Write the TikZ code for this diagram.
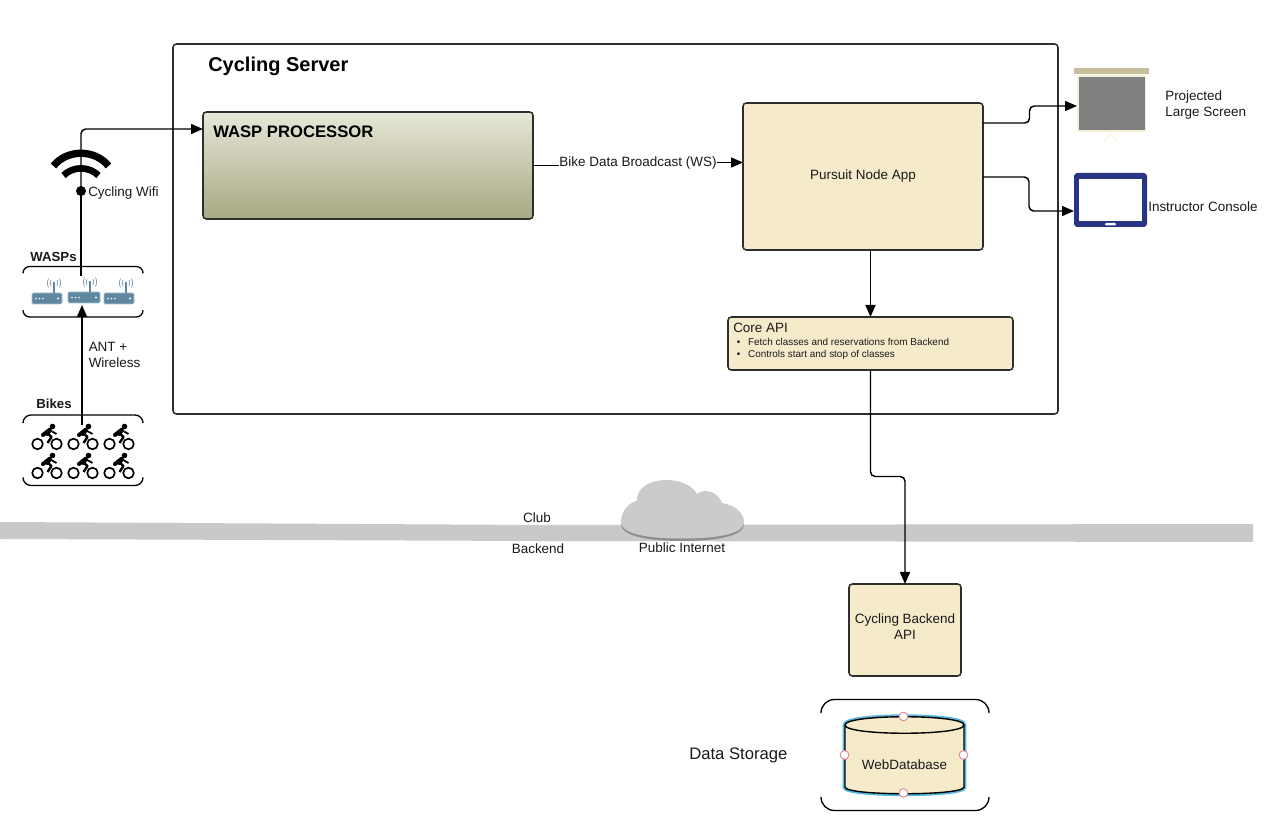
\documentclass[tikz,border=0pt]{standalone}
\usepackage{fontspec}
\setmainfont{Liberation Sans}
\usetikzlibrary{arrows.meta,calc,positioning}
\definecolor{cream}{HTML}{F5EBCB}
\definecolor{ink}{HTML}{1A1A1A}
\definecolor{frame}{HTML}{2E2E2E}
\definecolor{bandgray}{HTML}{C8C9CA}
\definecolor{routerblue}{HTML}{5F87A0}
\definecolor{routeredge}{HTML}{A9C0CF}
\definecolor{navy}{HTML}{273583}
\definecolor{proctop}{HTML}{E6E7D8}
\definecolor{procbot}{HTML}{A8A882}
\definecolor{projframe}{HTML}{F7F0D8}
\definecolor{projbar}{HTML}{C8BE9B}
\definecolor{cloudgray}{HTML}{CACBCD}
\definecolor{cloudshade}{HTML}{8E8F91}
\definecolor{handlered}{HTML}{E08A96}
\definecolor{selblue}{HTML}{58B6E0}
\newcommand{\routericon}[3]{%
  \fill[routerblue,draw=routeredge,line width=0.4pt,rounded corners=1pt] (#1,#2) rectangle ++(#3,11);
  \fill[white] (#1+4,#2+5.5) circle (0.9) (#1+7.5,#2+5.5) circle (0.9) (#1+11,#2+5.5) circle (0.9) (#1+#3-4,#2+5.5) circle (1.1);
  \draw[routerblue,line width=1pt] (#1+22,#2) -- (#1+22,#2-10);
  \fill[routerblue] (#1+22,#2-10) circle (1.4);
  \draw[routerblue!80,line width=0.55pt]
    (#1+19,#2-7) .. controls (#1+18,#2-9) and (#1+18,#2-11) .. (#1+19,#2-13)
    (#1+25,#2-7) .. controls (#1+26,#2-9) and (#1+26,#2-11) .. (#1+25,#2-13)
    (#1+16.5,#2-5.5) .. controls (#1+15,#2-9) and (#1+15,#2-11) .. (#1+16.5,#2-14.5)
    (#1+27.5,#2-5.5) .. controls (#1+29,#2-9) and (#1+29,#2-11) .. (#1+27.5,#2-14.5);
}
\newcommand{\bikeicon}[2]{%
  \draw[black,line width=1.25pt] (#1,#2) circle (5.3) (#1+19,#2) circle (5.3);
  \fill[black] (#1+15,#2-17.5) circle (2.8);
  \draw[black,line width=3pt,line join=round,line cap=round] (#1+5.5,#2-9) -- (#1+12.5,#2-14.5) -- (#1+10,#2-10);
  \draw[black,line width=1.8pt,line join=round] (#1+9.5,#2-11) -- (#1+14,#2-7) -- (#1+10,#2-1);
  \draw[black,line width=1.3pt] (#1+12,#2-14) -- (#1+19,#2-10);
}
\tikzset{
  boxbase/.style={draw=frame,line width=1.15pt,rounded corners=2.5pt,inner sep=0pt,outer sep=0pt},
  creambox/.style={boxbase,fill=cream,text=ink,align=center},
  lab/.style={text=ink,font=\fontsize{10.1}{12.2}\selectfont,inner sep=0pt,align=left},
  blab/.style={text=ink,font=\bfseries\fontsize{9.9}{12}\selectfont,inner sep=0pt},
  conn/.style={draw=black,line width=1.1pt,rounded corners=3.5pt},
  arr/.style={conn,-{Triangle[length=9pt,width=7.5pt]}},
  bracket/.style={draw=black,line width=1pt},
  handle/.style={circle,draw=handlered,fill=white,line width=0.7pt,minimum size=6.5pt,inner sep=0pt},
}
\begin{document}
\begin{tikzpicture}[x=0.75pt,y=-0.75pt]
\useasboundingbox (0,0) rectangle (1265,823);
\fill[white] (0,0) rectangle (1265,823);
% band
\fill[bandgray] (0,522) -- (540,525) -- (1253,524) -- (1253,542) -- (540,541) -- (0,539) -- cycle;
% server frame
\node[boxbase,minimum width=663.75pt,minimum height=277.5pt] (server) at (615.5,229) {};
\node[text=black,font=\bfseries\fontsize{15}{18}\selectfont,inner sep=0pt,anchor=west] (servertitle) at (208,66) {Cycling Server};
% processor
\node[boxbase,minimum width=247.5pt,minimum height=80.25pt,top color=proctop,bottom color=procbot] (proc) at (368,165.5) {};
\node[text=black,font=\bfseries\fontsize{12.5}{15}\selectfont,inner sep=0pt,anchor=west] (proctitle) at (213,132) {WASP PROCESSOR};
% pursuit
\node[creambox,minimum width=180pt,minimum height=110.25pt,lab] (pursuit) at (863,176.5) {\raisebox{0.6pt}{Pursuit Node App}};
% core
\node[creambox,minimum width=213.75pt,minimum height=39.75pt] (core) at (870.5,343.5) {};
\node[lab,anchor=north west] (coretitle) at (733,323) {Core API};
\node[text=ink,font=\fontsize{7.45}{9}\selectfont,inner sep=0pt,anchor=north west,align=left] (corelist) at (736.5,338)
  {\makebox[8.5pt][l]{•}Fetch classes and reservations from Backend\\\makebox[8.5pt][l]{•}Controls start and stop of classes};
% backend
\node[creambox,minimum width=84pt,minimum height=69pt] (backend) at (905,630) {};
\node[lab,align=center] (backendtext) at (905,626.5) {Cycling Backend\\API};
% database
\draw[selblue,line width=3.6pt] (845,725) .. controls (845,714) and (964,714) .. (964,725) -- (964,787) .. controls (964,796) and (845,796) .. (845,787) -- cycle;
\filldraw[fill=cream,draw=black,line width=1.05pt] (845,725) .. controls (845,714) and (964,714) .. (964,725) -- (964,787) .. controls (964,796) and (845,796) .. (845,787) -- cycle;
\draw[black,line width=1.05pt] (845,725) .. controls (845,736) and (964,736) .. (964,725);
\node[lab] (db) at (904.5,765) {WebDatabase};
\node[handle] (h1) at (903.5,716.5) {};
\node[handle] (h2) at (844.5,755) {};
\node[handle] (h3) at (963.5,755) {};
\node[handle] (h4) at (903.5,793) {};
\draw[bracket,rounded corners=10pt] (821,713) -- (821,699.5) -- (989,699.5) -- (989,713);
\draw[bracket,rounded corners=10pt] (821,797) -- (821,810.5) -- (989,810.5) -- (989,797);
\node[text=ink,font=\fontsize{12.5}{15}\selectfont,inner sep=0pt,anchor=west] (storage) at (689,755) {Data Storage};
% projector
\fill[projframe] (1077,75) rectangle (1146,132.5);
\fill[projbar] (1074,68) rectangle (1149,74);
\node[fill=gray,draw=none,inner sep=0pt,outer sep=0pt,minimum width=49.5pt,minimum height=40pt,anchor=north west] (screen) at (1078.5,77) {};
\draw[projframe,line width=0.6pt] (1104,142) -- (1111,134) -- (1118,142);
\node[lab,anchor=west] (screenlabel) at (1165,105) {Projected\\Large Screen};
% tablet
\node[fill=navy,rounded corners=2.5pt,inner sep=0pt,outer sep=0pt,minimum width=54.75pt,minimum height=40.5pt] (tablet) at (1110.5,200) {};
\fill[white] (1079,179) rectangle (1142,221);
\fill[white,rounded corners=0.8pt] (1105,223) rectangle (1116,225.5);
\node[lab,anchor=west] (tabletlabel) at (1148,207) {Instructor Console};
% cloud
\fill[cloudshade] (621,524) .. controls (621,534) and (640,541) .. (682,541) .. controls (725,541) and (744,534) .. (744,524) -- cycle;
\fill[cloudgray] (621,522) .. controls (621,510) and (630,502) .. (637,501) .. controls (636,488) and (650,480) .. (666,480) .. controls (680,480) and (692,485) .. (697,494) .. controls (701,490) and (716,488) .. (722,503) .. controls (735,505) and (744,513) .. (744,522) .. controls (744,532) and (725,538.5) .. (682,538.5) .. controls (640,538.5) and (621,532) .. (621,522) -- cycle;
\node[lab] (club) at (537,517.5) {Club};
\node[lab] (backendlabel) at (538,548.5) {Backend};
\node[lab] (internet) at (682,547.5) {Public Internet};
% bike group
\draw[bracket,rounded corners=6pt] (23,422) -- (23,415) -- (143,415) -- (143,422);
\draw[bracket,rounded corners=6pt] (23,478) -- (23,485.5) -- (143,485.5) -- (143,478);
\node[blab] (bikes) at (54,404) {Bikes};
\foreach \bx in {37.5,73.5,109.5} {\bikeicon{\bx}{444}\bikeicon{\bx}{473}}
\coordinate (bikeout) at (82,425);
% wasp group
\draw[bracket,rounded corners=5pt] (23,272) -- (23,266.5) -- (143,266.5) -- (143,272);
\draw[bracket,rounded corners=5pt] (23,311) -- (23,317) -- (143,317) -- (143,311);
\node[blab] (wasps) at (53.5,257) {WASPs};
\routericon{32}{293}{30}
\routericon{68}{292}{32}
\routericon{104}{293}{30}
\coordinate (waspin) at (82,305);
\coordinate (waspout) at (81,276);
% wifi
\draw[black,line width=5.5pt] (53.5,166) .. controls (67,149) and (95,149) .. (108.5,166);
\draw[black,line width=5pt] (63.5,175.5) .. controls (73,166) and (89,166) .. (98.5,175.5);
\node[circle,fill=black,minimum size=7.5pt,inner sep=0pt,outer sep=0pt] (wifi) at (81,191) {};
\node[lab,anchor=west] (wifilabel) at (88,193.5) {Cycling Wifi};
\node[lab,anchor=west] (antlabel) at (88.5,355) {ANT +\\Wireless};
% connectors
\coordinate (procin) at (203,129);
\draw[arr] (wifi.center) -- (81,129) -- (procin);
\draw[conn] (waspout) -- (wifi.center);
\draw[arr] (bikeout) -- (waspin);
\node[lab,fill=white] (broadcast) at (638,163.5) {Bike Data Broadcast (WS)};
\coordinate (pursuitin) at (743,162.5);
\draw[conn] (proc.east) -- (broadcast.west |- proc.east);
\draw[arr] (broadcast.east |- pursuitin) -- (pursuitin);
\coordinate (pursuitoutA) at (983,123);
\coordinate (screenin) at (1077,106);
\draw[arr] (pursuitoutA) -- (1029.5,123) -- (1029.5,106) -- (screenin);
\coordinate (pursuitoutB) at (983,177);
\coordinate (tabletin) at (1074,211);
\draw[arr] (pursuitoutB) -- (1029,177) -- (1029,211) -- (tabletin);
\draw[arr] (core.north |- pursuit.south) -- (core.north);
\draw[arr] (core.south) -- (870.5,476.5) -- (905,476.5) -- (backend.north);
\end{tikzpicture}
\end{document}
